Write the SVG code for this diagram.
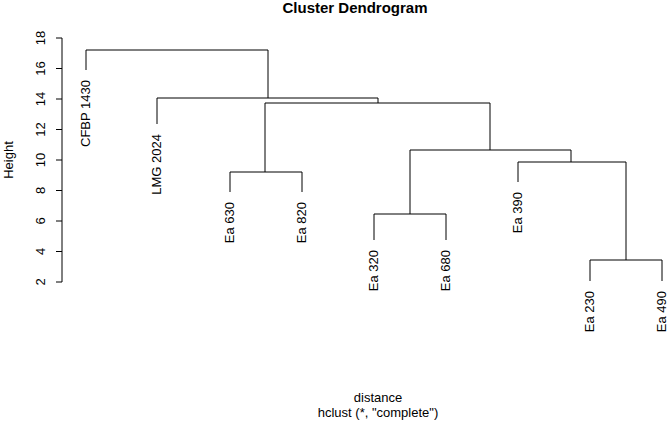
<svg xmlns="http://www.w3.org/2000/svg" width="669" height="425" viewBox="0 0 669 425">
<style>
text{font-family:"Liberation Sans",Arial,sans-serif;font-size:13px;fill:#000}
.l{fill:none;stroke:#000;stroke-width:1}
</style>
<rect width="669" height="425" fill="#fff"/>
<text x="355" y="13" text-anchor="middle" font-weight="bold" style="font-size:15px">Cluster Dendrogram</text>
<text x="378" y="402" text-anchor="middle">distance</text>
<text x="378" y="417" text-anchor="middle">hclust (*, "complete")</text>
<text transform="translate(13,160) rotate(-90)" text-anchor="middle">Height</text>
<g id="axis" class="l">
<path class="l" d="M62 38V282M56 38H62M56 68.5H62M56 99H62M56 129.5H62M56 160H62M56 190.5H62M56 221H62M56 251.5H62M56 282H62"/>
</g>
<g text-anchor="middle">
<text transform="translate(45,38) rotate(-90)">18</text>
<text transform="translate(45,68.5) rotate(-90)">16</text>
<text transform="translate(45,99) rotate(-90)">14</text>
<text transform="translate(45,129.5) rotate(-90)">12</text>
<text transform="translate(45,160) rotate(-90)">10</text>
<text transform="translate(45,190.5) rotate(-90)">8</text>
<text transform="translate(45,221) rotate(-90)">6</text>
<text transform="translate(45,251.5) rotate(-90)">4</text>
<text transform="translate(45,282) rotate(-90)">2</text>
</g>
<g id="connectors">
<path class="l" d="M86 70V50H268V98M157 124V98H378V103M265 172V103H490V150M230 192V172H302V192M410 214V150H571V162M374 240V214H446V240M518 182V162H626V260M590 281V260H662V281"/>
</g>
<g text-anchor="end">
<g id="n1"><text transform="translate(90,80) rotate(-90)">CFBP 1430</text></g>
<g id="n2"><text transform="translate(161,134) rotate(-90)">LMG 2024</text></g>
<g id="n3"><text transform="translate(234,202) rotate(-90)">Ea 630</text></g>
<g id="n4"><text transform="translate(306,202) rotate(-90)">Ea 820</text></g>
<g id="n5"><text transform="translate(378,250) rotate(-90)">Ea 320</text></g>
<g id="n6"><text transform="translate(450,250) rotate(-90)">Ea 680</text></g>
<g id="n7"><text transform="translate(522,192) rotate(-90)">Ea 390</text></g>
<g id="n8"><text transform="translate(594,291) rotate(-90)">Ea 230</text></g>
<g id="n9"><text transform="translate(666,291) rotate(-90)">Ea 490</text></g>
</g>
</svg>
